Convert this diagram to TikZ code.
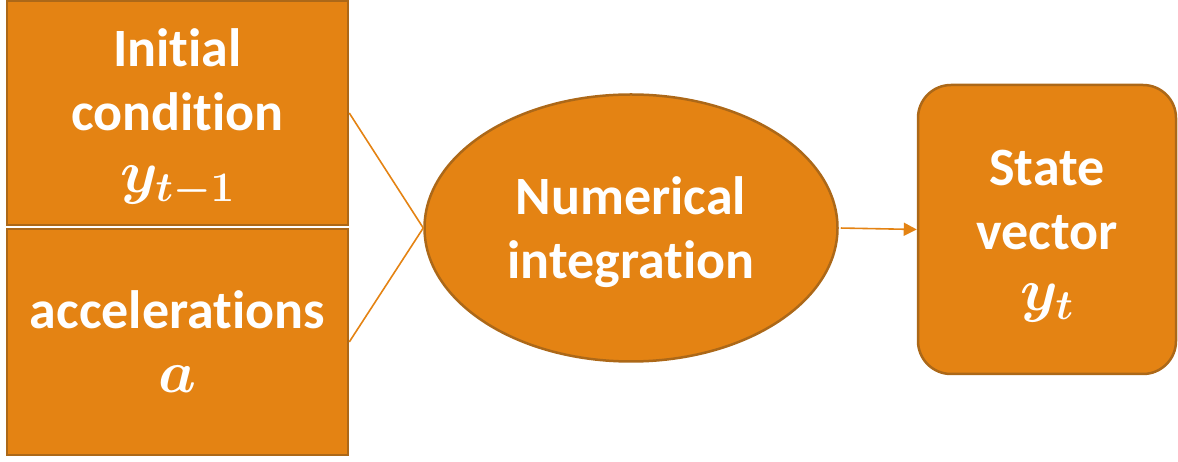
\RequirePackage{fix-cm}
\documentclass[tikz,border=0pt]{standalone}
\usepackage{fontspec}
\setmainfont{Carlito}[Ligatures=NoCommon]
\usetikzlibrary{arrows.meta,shapes.geometric}

\definecolor{boxfill}{RGB}{228,131,19}
\definecolor{boxedge}{RGB}{172,104,24}

\newcommand{\bigmath}[1]{{\fontsize{60}{64}\selectfont$#1$}}
\newcommand{\topstrut}[1]{\rule{0pt}{#1}}

\tikzset{
  blocktext/.style={text=white, font=\fontsize{54}{64}\selectfont\bfseries\boldmath, align=center},
  block/.style={blocktext, rectangle, fill=boxfill, draw=boxedge, line width=2.5pt, inner sep=0pt},
  oval/.style={blocktext, ellipse, fill=boxfill, draw=boxedge, line width=2.5pt, inner sep=0pt},
  link/.style={draw=boxfill, line width=1.6pt},
}

\begin{document}
\begin{tikzpicture}[x=1pt,y=1pt]
  \useasboundingbox (0,0) rectangle (1178,462);

  % input blocks
  \node[block, minimum width=341pt, minimum height=224pt] (init) at (177.5,349)
    {\topstrut{48pt}Initial\\condition\\[-2pt]\bigmath{y_{t-1}}};
  \node[block, minimum width=341pt, minimum height=226pt] (acc) at (177.5,120)
    {accelerations\\\bigmath{a}};

  % integrator
  \node[oval, minimum width=413pt, minimum height=267pt] (integ) at (631,234)
    {\topstrut{46pt}Numerical\\integration};

  % output block
  \node[block, rounded corners=33pt, minimum width=258pt, minimum height=289pt] (state) at (1047,232.5)
    {\topstrut{49pt}State\\vector\\[-3pt]\bigmath{y_t}};

  % connectors
  \draw[link] (init.east) -- (integ.west);
  \draw[link] (acc.east) -- (integ.west);
  \draw[link, -{Triangle[length=13pt,width=13pt]}, shorten <=2pt] (integ.east) -- (state.west);
\end{tikzpicture}
\end{document}
